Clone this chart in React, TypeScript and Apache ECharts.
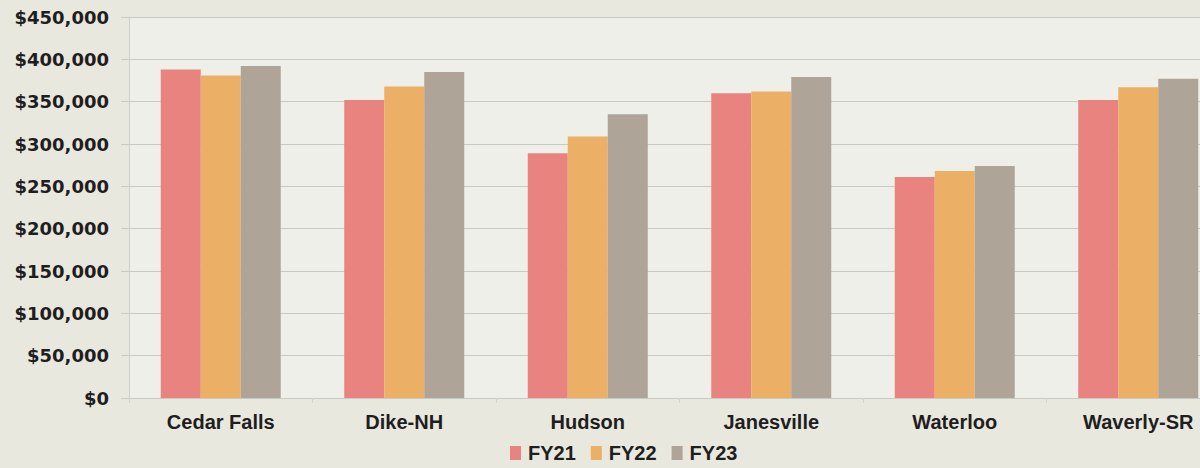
import React, { useEffect, useRef } from "react";
import * as echarts from "echarts";

const categories = ["Cedar Falls", "Dike-NH", "Hudson", "Janesville", "Waterloo", "Waverly-SR"];
const fy21 = [388000, 352000, 289000, 360000, 261000, 352000];
const fy22 = [381000, 368000, 309000, 362000, 268000, 367000];
const fy23 = [392000, 385000, 335000, 379000, 274000, 377000];
const seriesNames = ["FY21", "FY22", "FY23"];
const colors = ["#e8837f", "#ebb066", "#aea497"];

export default function App() {
  const ref = useRef<HTMLDivElement>(null);
  useEffect(() => {
    if (!ref.current) return;
    const chart = echarts.init(ref.current, null, { renderer: "svg" });
    const data = [fy21, fy22, fy23];
    chart.setOption({
      animation: false,
      backgroundColor: "#e9e8df",
      grid: {
        left: 129,
        right: -30,
        top: 17,
        bottom: 70,
        outerBoundsMode: "none",
        containLabel: false,
        show: true,
        backgroundColor: "#efefe9",
        borderWidth: 0,
      },
      legend: {
        data: seriesNames,
        left: 505,
        top: 438,
        itemWidth: 11,
        itemHeight: 14,
        itemGap: 15,
        icon: "rect",
        textStyle: {
          fontFamily: "Liberation Sans",
          fontWeight: "bold",
          fontSize: 20,
          color: "#1e1e1e",
          padding: [0, 0, 0, 2],
        },
      },
      xAxis: {
        type: "category",
        data: categories,
        axisLine: { show: false },
        axisTick: { show: true, length: 5, lineStyle: { color: "#d4d3cc" } },
        axisLabel: {
          margin: 14,
          fontFamily: "Liberation Sans",
          fontWeight: "bold",
          fontSize: 20,
          color: "#1e1e1e",
        },
      },
      yAxis: {
        type: "value",
        min: 0,
        max: 450000,
        interval: 50000,
        axisLine: { show: true, lineStyle: { color: "#cfcfca" } },
        axisTick: { show: true, length: 8, lineStyle: { color: "#c9c9c4" } },
        splitLine: { show: true, lineStyle: { color: "#c9c9c4", width: 1 } },
        axisLabel: {
          margin: 20,
          fontFamily: "DejaVu Sans",
          fontWeight: "bold",
          fontSize: 18,
          color: "#1e1e1e",
          formatter: (v: number) => "$" + v.toLocaleString("en-US"),
        },
      },
      series: seriesNames.map((name, i) => ({
        name,
        type: "bar",
        data: data[i],
        barWidth: 40,
        barGap: "0%",
        itemStyle: { color: colors[i] },
      })),
    });
    return () => chart.dispose();
  }, []);
  return (
    <div
      ref={ref}
      style={{ position: "fixed", left: 0, top: 0, width: 1200, height: 468 }}
    />
  );
}
